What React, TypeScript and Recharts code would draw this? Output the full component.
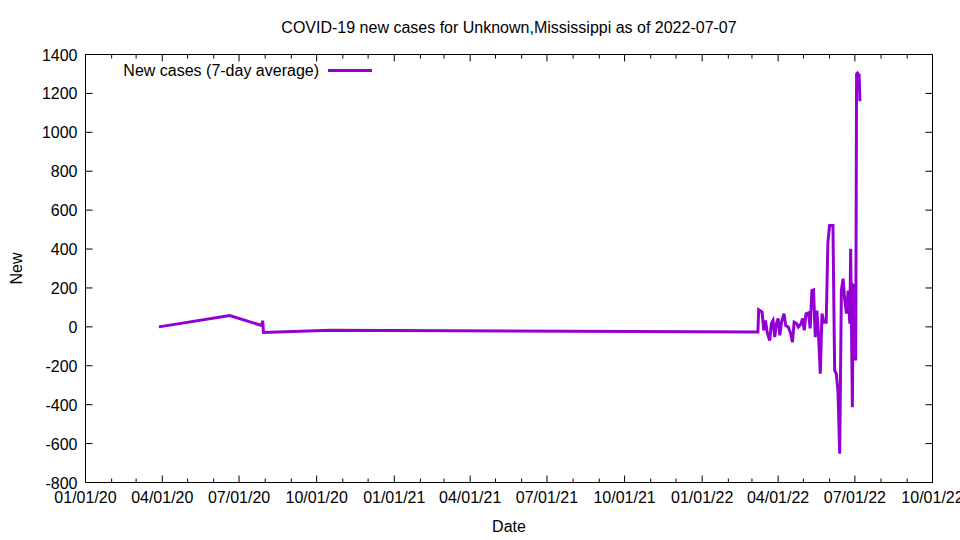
import React from 'react';
import { LineChart, Line, XAxis, YAxis } from 'recharts';

const chartTitle = 'COVID-19 new cases for Unknown,Mississippi as of 2022-07-07';
const seriesName = 'New cases (7-day average)';
const xAxisTitle = 'Date';
const yAxisTitle = 'New';

const dates = [
  '2020-03-28', '2020-06-20', '2020-07-28', '2020-07-29', '2020-07-30', '2020-10-17',
  '2022-03-08', '2022-03-09', '2022-03-13', '2022-03-15', '2022-03-17', '2022-03-19',
  '2022-03-22', '2022-03-24', '2022-03-26', '2022-03-28', '2022-03-30', '2022-04-01',
  '2022-04-03', '2022-04-05', '2022-04-08', '2022-04-10', '2022-04-13', '2022-04-16',
  '2022-04-18', '2022-04-20', '2022-04-23', '2022-04-25', '2022-04-28', '2022-04-30',
  '2022-05-02', '2022-05-04', '2022-05-07', '2022-05-09', '2022-05-11', '2022-05-13',
  '2022-05-15', '2022-05-17', '2022-05-19', '2022-05-21', '2022-05-23', '2022-05-25',
  '2022-05-28', '2022-05-30', '2022-06-01', '2022-06-05', '2022-06-07', '2022-06-09',
  '2022-06-11', '2022-06-13', '2022-06-15', '2022-06-17', '2022-06-19', '2022-06-21',
  '2022-06-23', '2022-06-25', '2022-06-26', '2022-06-28', '2022-06-29', '2022-07-01',
  '2022-07-02', '2022-07-03', '2022-07-04', '2022-07-05', '2022-07-06', '2022-07-07',
];

const newCases = [
  0, 58, 7, 32, -29, -17,
  -26, 88, 76, -18, 33, -27,
  -70, 17, 33, -53, 17, 43,
  -44, 24, 68, 7, -1, -35,
  -79, 24, 17, -1, 15, 43,
  -18, 67, 72, -8, 187, 190,
  -53, 84, -53, -241, 68, 24,
  24, 435, 521, 521, -224, -241,
  -336, -652, 187, 248, 136, 68,
  187, 17, 402, -413, 213, 204,
  -173, 1300, 1305, 1300, 1295, 1160,
];

const yTicks = [-800, -600, -400, -200, 0, 200, 400, 600, 800, 1000, 1200, 1400];
const quarterLabels = [
  '01/01/20', '04/01/20', '07/01/20', '10/01/20',
  '01/01/21', '04/01/21', '07/01/21', '10/01/21',
  '01/01/22', '04/01/22', '07/01/22', '10/01/22',
];

const data = dates.map((d, i) => ({ t: Date.parse(d), v: newCases[i] }));

const monthTicks: number[] = [];
for (let y = 2020; y <= 2022; y++) {
  for (let m = 0; m < 12; m++) {
    if (y === 2022 && m > 9) break;
    monthTicks.push(Date.UTC(y, m, 1));
  }
}
const xDomain = [monthTicks[0], monthTicks[monthTicks.length - 1]];

const FONT = '"Liberation Sans", Arial, Helvetica, sans-serif';
const FS = 16;
const COLOR = '#9400D3';

const quarterIndex = (v: number) => {
  const d = new Date(v);
  const mi = (d.getUTCFullYear() - 2020) * 12 + d.getUTCMonth();
  return mi % 3 === 0 ? mi / 3 : -1;
};

const BottomTick = (props: any) => {
  const { x, y, payload } = props;
  const q = quarterIndex(payload.value);
  return (
    <g>
      <line x1={x} x2={x} y1={y} y2={y - (q >= 0 ? 7 : 4)} stroke="#000" strokeWidth={1} />
      {q >= 0 && (
        <text x={x} y={y + 20.5} textAnchor="middle" fontFamily={FONT} fontSize={FS} fill="#000">
          {quarterLabels[q]}
        </text>
      )}
    </g>
  );
};

const TopTick = (props: any) => {
  const { x, y, payload } = props;
  const q = quarterIndex(payload.value);
  return <line x1={x} x2={x} y1={y} y2={y + (q >= 0 ? 7 : 4)} stroke="#000" strokeWidth={1} />;
};

const LeftTick = (props: any) => {
  const { x, y, payload } = props;
  return (
    <g>
      <line x1={x} x2={x + 7} y1={y} y2={y} stroke="#000" strokeWidth={1} />
      <text x={x - 8} y={y + 6} textAnchor="end" fontFamily={FONT} fontSize={FS} fill="#000">
        {payload.value}
      </text>
    </g>
  );
};

const RightTick = (props: any) => {
  const { x, y } = props;
  return <line x1={x} x2={x - 7} y1={y} y2={y} stroke="#000" strokeWidth={1} />;
};

export default function App() {
  return (
    <div style={{ position: 'absolute', left: 0, top: 0, width: 960, height: 540, background: '#fff' }}>
      <LineChart
        width={960}
        height={540}
        data={data}
        margin={{ top: 44.5, right: 17.5, bottom: 27.5, left: 25.5 }}
      >
        <XAxis
          dataKey="t"
          type="number"
          domain={xDomain}
          ticks={monthTicks}
          interval={0}
          height={30}
          tickSize={0}
          tickMargin={0}
          tickLine={false}
          axisLine={{ stroke: '#000', strokeWidth: 1 }}
          tick={<BottomTick />}
          allowDataOverflow
        />
        <XAxis
          xAxisId="top"
          orientation="top"
          dataKey="t"
          type="number"
          domain={xDomain}
          ticks={monthTicks}
          interval={0}
          height={10}
          tickSize={0}
          tickMargin={0}
          tickLine={false}
          axisLine={{ stroke: '#000', strokeWidth: 1 }}
          tick={<TopTick />}
          allowDataOverflow
        />
        <YAxis
          type="number"
          domain={[-800, 1400]}
          ticks={yTicks}
          interval={0}
          width={60}
          tickSize={0}
          tickMargin={0}
          tickLine={false}
          axisLine={{ stroke: '#000', strokeWidth: 1 }}
          tick={<LeftTick />}
          allowDataOverflow
        />
        <YAxis
          yAxisId="right"
          orientation="right"
          type="number"
          domain={[-800, 1400]}
          ticks={yTicks}
          interval={0}
          width={10}
          tickSize={0}
          tickMargin={0}
          tickLine={false}
          axisLine={{ stroke: '#000', strokeWidth: 1 }}
          tick={<RightTick />}
          allowDataOverflow
        />
        <Line
          type="linear"
          dataKey="v"
          name={seriesName}
          stroke={COLOR}
          strokeWidth={3}
          dot={false}
          activeDot={false}
          isAnimationActive={false}
        />
      </LineChart>
      <svg
        width={960}
        height={540}
        style={{ position: 'absolute', left: 0, top: 0, pointerEvents: 'none' }}
      >
        <text x={509} y={33} textAnchor="middle" fontFamily={FONT} fontSize={FS} fill="#000">
          {chartTitle}
        </text>
        <text x={509} y={532} textAnchor="middle" fontFamily={FONT} fontSize={FS} fill="#000">
          {xAxisTitle}
        </text>
        <text
          x={22}
          y={268.5}
          textAnchor="middle"
          transform="rotate(-90 22 268.5)"
          fontFamily={FONT}
          fontSize={FS}
          fill="#000"
        >
          {yAxisTitle}
        </text>
        <text x={319} y={76} textAnchor="end" fontFamily={FONT} fontSize={FS} fill="#000">
          {seriesName}
        </text>
        <line x1={328} x2={372} y1={70.5} y2={70.5} stroke={COLOR} strokeWidth={3} />
      </svg>
    </div>
  );
}
